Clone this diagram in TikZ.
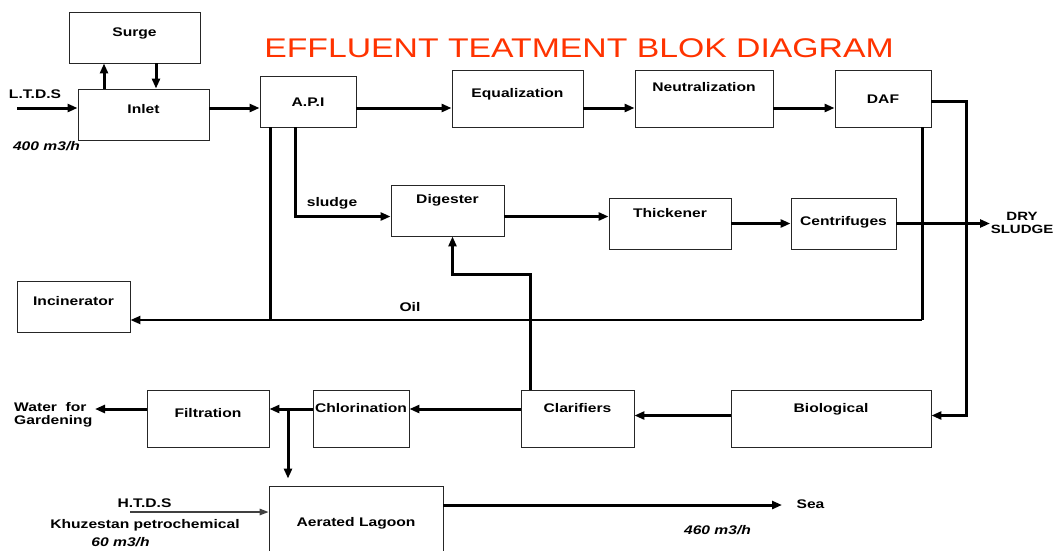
\documentclass[tikz,border=0pt]{standalone}
\usepackage{fontspec}
\setmainfont{Liberation Sans}[FakeStretch=1.25]
\usetikzlibrary{arrows.meta}
\definecolor{titlered}{RGB}{255,51,0}

\tikzset{
  box/.style={draw=black!85, line width=0.9pt, inner sep=0pt, text height=9pt,
    font=\fontsize{12.5}{14}\selectfont\bfseries},
  lbl/.style={inner sep=0pt, font=\fontsize{12.5}{14}\selectfont\bfseries},
  rate/.style={inner sep=0pt, font=\fontsize{12.5}{14}\selectfont\bfseries\itshape},
  flow/.style={line width=3pt, -{Triangle[length=10pt,width=8pt]}},
  pipe/.style={line width=3pt},
  thin flow/.style={line width=1.4pt, draw=black!75, -{Triangle[length=9pt,width=6.5pt]}}
}

\begin{document}
\begin{tikzpicture}[x=1pt, y=-1pt]
\useasboundingbox (0,0) rectangle (1056,550);

% title
\node[inner sep=0pt, text=titlered, font=\fontsize{27}{30}\selectfont] (title) at (579,48) {EFFLUENT TEATMENT BLOK DIAGRAM};

% process units
\node[box, minimum width=131pt, minimum height=51pt, text depth=11pt] (surge) at (134.5,37.5) {Surge};
\node[box, minimum width=131pt, minimum height=51pt, text depth=11pt] (inlet) at (143.5,114.5) {Inlet};
\node[box, minimum width=96pt, minimum height=51pt, text depth=0pt] (api) at (308,101.5) {A.P.I};
\node[box, minimum width=131pt, minimum height=57pt, text depth=11pt] (equal) at (517.5,98.5) {Equalization};
\node[box, minimum width=138pt, minimum height=57pt, text depth=23pt] (neutral) at (704,98.5) {Neutralization};
\node[box, minimum width=96pt, minimum height=57pt, text depth=0pt] (daf) at (883,98.5) {DAF};
\node[box, minimum width=113pt, minimum height=51pt, text depth=23pt] (digester) at (447.5,210.5) {Digester};
\node[box, minimum width=122pt, minimum height=51pt, text depth=21pt] (thickener) at (670,223.5) {Thickener};
\node[box, minimum width=105pt, minimum height=51pt, text depth=5pt] (centrif) at (843.5,223.5) {Centrifuges};
\node[box, minimum width=113pt, minimum height=51pt, text depth=11pt] (incin) at (73.5,306.5) {Incinerator};
\node[box, minimum width=122pt, minimum height=57pt, text depth=11pt] (filtration) at (208,418.5) {Filtration};
\node[box, minimum width=96pt, minimum height=57pt, text depth=21pt] (chlor) at (361,418.5) {Chlorination};
\node[box, minimum width=113pt, minimum height=57pt, text depth=21pt] (clarif) at (577.5,418.5) {Clarifiers};
\node[box, minimum width=200pt, minimum height=57pt, text depth=21pt] (bio) at (831,418.5) {Biological};
\node[box, minimum width=174pt, minimum height=72pt, text depth=0pt] (lagoon) at (356,522) {Aerated Lagoon};

% streams in and out
\coordinate (ltdsin) at (17,108);
\coordinate (drysl) at (990,223.5);
\coordinate (waterout) at (95,409);
\coordinate (htdsin) at (130,512);
\coordinate (seaout) at (782,505);

\node[lbl] (ltds) at (35,94) {L.T.D.S};
\node[rate] (rate400) at (46.5,146) {400 m3/h};
\node[lbl] (sludge) at (332,203.5) {sludge};
\node[lbl] (oil) at (410,307.5) {Oil};
\node[lbl, align=center, font=\fontsize{12}{13}\selectfont\bfseries] (dry) at (1022,223) {DRY\\SLUDGE};
\node[lbl, align=left, anchor=west] (water) at (14,415) {Water\ \ for\\[-1pt]Gardening};
\node[lbl] (htds) at (144.5,503) {H.T.D.S};
\node[lbl] (khuz) at (145,525) {Khuzestan petrochemical};
\node[rate] (rate60) at (120.5,542.5) {60 m3/h};
\node[lbl] (sea) at (810.5,504) {Sea};
\node[rate] (rate460) at (717.5,530) {460 m3/h};

% main line
\draw[flow] (ltdsin) -- (ltdsin -| inlet.west);
\draw[flow] ([xshift=-39.5pt]inlet.north) -- ([xshift=-30.5pt]surge.south);
\draw[flow] ([xshift=21.5pt]surge.south) -- ([xshift=12.5pt]inlet.north);
\draw[flow] (inlet.east |- 0,108) -- (api.west |- 0,108);
\draw[flow] (api.east |- 0,108) -- (equal.west |- 0,108);
\draw[flow] (equal.east |- 0,108) -- (neutral.west |- 0,108);
\draw[flow] (neutral.east |- 0,108) -- (daf.west |- 0,108);
\draw[flow] (daf.east |- 0,101.5) -- (966,101.5) |- (bio.east |- 0,415.5);

% oil
\draw[pipe] (daf.south -| 922,0) -- (922,320);
\draw[pipe] (api.south -| 270,0) -- (270,320);
\draw[flow, line width=2.2pt] (922,320) -- (incin.east |- 0,320);

% sludge line
\draw[flow] (api.south -| 295,0) |- (digester.west |- 0,216.5);
\draw[flow] (digester.east |- 0,216.5) -- (thickener.west |- 0,216.5);
\draw[flow] (thickener.east) -- (centrif.west);
\draw[flow] (centrif.east) -- (drysl);
\draw[flow] (clarif.north -| 530.5,0) -- (530.5,274.5) -| (digester.south -| 452.5,0);

% water line
\draw[flow] (bio.west |- 0,415.5) -- (clarif.east |- 0,415.5);
\draw[flow] (clarif.west |- 0,409) -- (chlor.east |- 0,409);
\draw[flow] (chlor.west |- 0,409) -- (filtration.east |- 0,409);
\draw[flow, shorten >=7pt] (288,409) -- (lagoon.north -| 288,0);
\draw[flow] (filtration.west |- 0,409) -- (waterout);
\draw[thin flow] (htdsin) -- (lagoon.west |- 0,512);
\draw[flow] (lagoon.east |- 0,505) -- (seaout);
\end{tikzpicture}
\end{document}
